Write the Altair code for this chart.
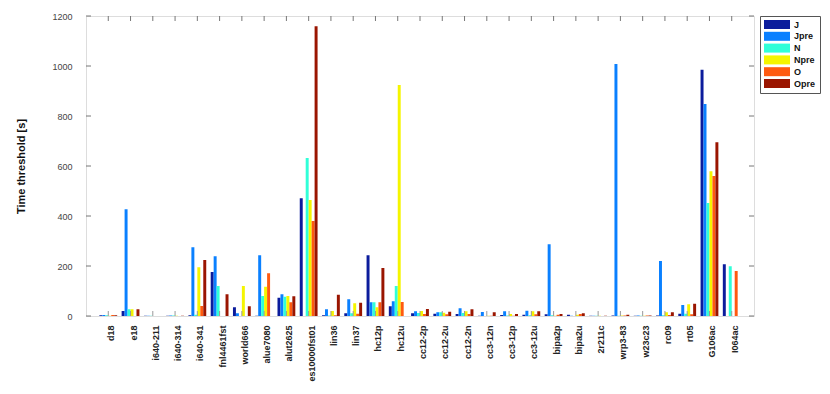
import altair as alt
import pandas as pd

categories = ["d18", "e18", "i640-211", "i640-314", "i640-341", "fnl4461fst", "world666",
              "alue7080", "alut2625", "es10000fst01", "lin36", "lin37", "hc12p", "hc12u",
              "cc12-2p", "cc12-2u", "cc12-2n", "cc3-12n", "cc3-12p", "cc3-12u", "bipa2p",
              "bipa2u", "2r211c", "wrp3-83", "w23c23", "rc09", "rt05", "G106ac", "I064ac"]

series_names = ["J", "Jpre", "N", "Npre", "O", "Opre"]

J = [3, 20, 1, 1, 3, 176, 35, 1, 73, 471, 3, 11, 243, 39, 11, 9, 8, 1, 4, 5, 7, 5, 1, 2, 1, 2, 9, 985, 207]
Jpre = [4, 427, 1, 2, 275, 239, 11, 243, 87, 0, 27, 67, 55, 59, 19, 15, 31, 16, 19, 21, 287, 1, 1, 1008, 2, 220, 44, 848, 0]
N = [3, 27, 1, 2, 5, 120, 0, 80, 77, 632, 2, 11, 55, 120, 12, 15, 12, 0, 2, 3, 3, 0, 1, 1, 1, 3, 9, 452, 199]
Npre = [1, 27, 0, 1, 195, 0, 120, 117, 80, 464, 20, 51, 35, 924, 20, 13, 19, 1, 8, 19, 1, 5, 1, 2, 1, 15, 47, 579, 0]
O = [4, 0, 0, 0, 40, 0, 0, 171, 55, 380, 3, 9, 55, 56, 8, 7, 8, 1, 1, 7, 5, 8, 0, 2, 2, 4, 7, 560, 180]
Opre = [3, 27, 0, 1, 224, 87, 39, 0, 79, 1159, 85, 53, 192, 0, 28, 17, 27, 15, 8, 19, 8, 11, 1, 5, 2, 15, 49, 695, 0]

colors = ["#0b1c9c", "#0a80ff", "#30ffd8", "#f5f500", "#ff5a10", "#9a1500"]
y_ticks = [0, 200, 400, 600, 800, 1000, 1200]

series_values = [J, Jpre, N, Npre, O, Opre]
rows = []
for name, vals in zip(series_names, series_values):
    for c, v in zip(categories, vals):
        rows.append({"cat": c, "series": name, "value": v})
df = pd.DataFrame(rows)
cat_df = pd.DataFrame({"cat": categories})
tick_df = pd.DataFrame({"t": y_ticks})

FONT = "Liberation Sans"
W, H = 668, 300

xscale = alt.Scale(domain=categories, paddingInner=0.2, paddingOuter=0.6)
yscale = alt.Scale(domain=[0, 1200], nice=False)

bars = alt.Chart(df).mark_bar().encode(
    x=alt.X("cat:N", sort=categories, scale=xscale,
            axis=alt.Axis(title=None, labelAngle=270, labelAlign="right", labelBaseline="middle",
                          labelPadding=9, labelOffset=3, ticks=False, domain=False,
                          labelFont=FONT, labelFontSize=9, labelColor="#222222",
                          labelFontWeight="bold")),
    xOffset=alt.XOffset("series:N", sort=series_names,
                        scale=alt.Scale(domain=series_names, paddingInner=0, paddingOuter=0)),
    y=alt.Y("value:Q", scale=yscale,
            axis=alt.Axis(title="Time threshold [s]", values=y_ticks, format="d", ticks=False,
                          domain=False, grid=False, labelPadding=14, labelFont=FONT,
                          labelFontSize=9, labelColor="#444444", titleFont=FONT, titleFontSize=11,
                          titleFontWeight="bold", titleColor="#111111", titlePadding=25)),
    color=alt.Color("series:N", sort=series_names,
                    scale=alt.Scale(domain=series_names, range=colors),
                    legend=alt.Legend(title=None, orient="none", legendX=674, legendY=0,
                                      symbolType="M-1,-1H4.78V1H-1Z", symbolSize=81,
                                      symbolStrokeWidth=0, labelOffset=21,
                                      labelFont=FONT, labelFontSize=9, labelFontWeight="bold",
                                      labelColor="#111111", rowPadding=1.8, padding=4,
                                      strokeColor="#555555", fillColor="white")),
)

top_ticks = alt.Chart(cat_df).mark_rule(color="#777777", strokeWidth=1).encode(
    x=alt.X("cat:N", sort=categories, scale=xscale),
    y=alt.value(0), y2=alt.value(5))
bottom_ticks = alt.Chart(cat_df).mark_rule(color="#999999", strokeWidth=1).encode(
    x=alt.X("cat:N", sort=categories, scale=xscale),
    y=alt.value(H - 5), y2=alt.value(H))
left_ticks = alt.Chart(tick_df).mark_rule(color="#777777", strokeWidth=1).encode(
    y=alt.Y("t:Q", scale=yscale), x=alt.value(0), x2=alt.value(5))
right_ticks = alt.Chart(tick_df).mark_rule(color="#777777", strokeWidth=1).encode(
    y=alt.Y("t:Q", scale=yscale), x=alt.value(W - 5), x2=alt.value(W))

chart = alt.layer(bars, top_ticks, bottom_ticks, left_ticks, right_ticks).properties(
    width=W, height=H,
    autosize=alt.AutoSizeParams(type="none"),
    padding={"left": 78, "top": 8, "right": 68, "bottom": 70},
).configure_view(stroke="#777777", strokeWidth=1).configure(background="white")

chart.save("out.html", embed_options={"renderer": "svg", "actions": False})
